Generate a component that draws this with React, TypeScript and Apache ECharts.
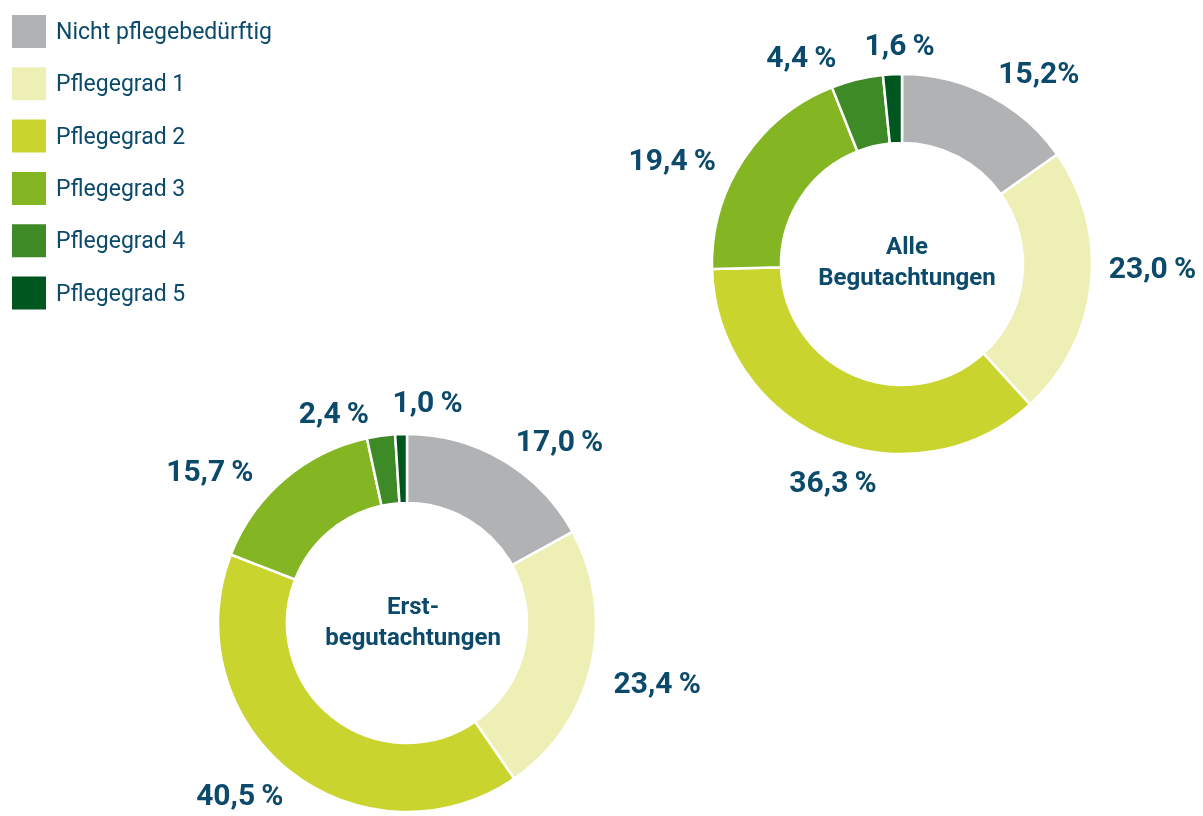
import React, { useEffect, useRef } from "react";
import * as echarts from "echarts";

const categories = [
  "Nicht pflegebedürftig",
  "Pflegegrad 1",
  "Pflegegrad 2",
  "Pflegegrad 3",
  "Pflegegrad 4",
  "Pflegegrad 5",
];
const alleValues = [15.2, 23.0, 36.3, 19.4, 4.4, 1.6];
const erstValues = [17.0, 23.4, 40.5, 15.7, 2.4, 1.0];
const alleLabels = ["15,2%", "23,0\u2009%", "36,3\u2009%", "19,4\u2009%", "4,4\u2009%", "1,6\u2009%"];
const erstLabels = ["17,0\u2009%", "23,4\u2009%", "40,5\u2009%", "15,7\u2009%", "2,4\u2009%", "1,0\u2009%"];
const alleTitle = "Alle\nBegutachtungen";
const erstTitle = "Erst-\nbegutachtungen";

// style: small label nudges [dx, dy] relative to ECharts' outside label placement
const alleNudge = [[-3, -9], [-2, -19], [60, 29], [-10, 8], [-12, -8], [48, -15]];
const erstNudge = [[0, -7], [3, 13], [8, 11], [-16, 3], [-5, -8], [67, -18]];

const colors = ["#b1b2b4", "#eeefb4", "#c9d52e", "#84b523", "#3e8a26", "#00561f"];
const textColor = "#0b4a6b";
const FONT = "Roboto";

export default function App() {
  const ref = useRef<HTMLDivElement>(null);
  useEffect(() => {
    if (!ref.current) return;
    const chart = echarts.init(ref.current, null, { renderer: "svg" });
    const makeSeries = (
      name: string,
      values: number[],
      labels: string[],
      nudge: number[][],
      center: number[],
      radius: number[]
    ) => ({
      type: "pie",
      name,
      center,
      radius,
      startAngle: 90,
      clockwise: true,
      avoidLabelOverlap: false,
      minShowLabelAngle: 0,
      itemStyle: { borderColor: "#ffffff", borderWidth: 2.5 },
      label: {
        show: true,
        position: "outside",
        formatter: (p: any) => labels[p.dataIndex],
        color: textColor,
        fontFamily: FONT,
        fontWeight: "bold",
        fontSize: 30,
        lineHeight: 28,
        distanceToLabelLine: 5,
      },
      labelLine: { show: false, length: 15, length2: 0 },
      labelLayout: (p: any) => ({
        dx: nudge[p.dataIndex][0],
        dy: nudge[p.dataIndex][1],
        hideOverlap: false,
      }),
      emphasis: { disabled: true },
      data: values.map((v, i) => ({ name: categories[i], value: v })),
    });
    chart.setOption({
      animation: false,
      color: colors,
      legend: {
        orient: "vertical",
        left: 10,
        top: 13,
        padding: 0,
        itemWidth: 36,
        itemHeight: 35,
        itemGap: 15.3,
        icon: "rect",
        selectedMode: false,
        data: categories,
        textStyle: { color: textColor, fontFamily: FONT, fontSize: 23, lineHeight: 24, padding: [0, 0, 0, 4] },
      },
      title: [
        {
          text: alleTitle,
          left: 902,
          top: 256,
          textAlign: "center",
          textVerticalAlign: "middle",
          textStyle: { color: textColor, fontFamily: FONT, fontWeight: "bold", fontSize: 24, lineHeight: 31 },
        },
        {
          text: erstTitle,
          left: 408,
          top: 616,
          textAlign: "center",
          textVerticalAlign: "middle",
          textStyle: { color: textColor, fontFamily: FONT, fontWeight: "bold", fontSize: 24, lineHeight: 31 },
        },
      ],
      series: [
        makeSeries("Alle Begutachtungen", alleValues, alleLabels, alleNudge, [902, 264], [121, 190]),
        makeSeries("Erstbegutachtungen", erstValues, erstLabels, erstNudge, [407, 623], [120, 189]),
      ],
    });
    return () => chart.dispose();
  }, []);
  return <div ref={ref} style={{ position: "fixed", left: 0, top: 0, width: 1203, height: 816 }} />;
}
